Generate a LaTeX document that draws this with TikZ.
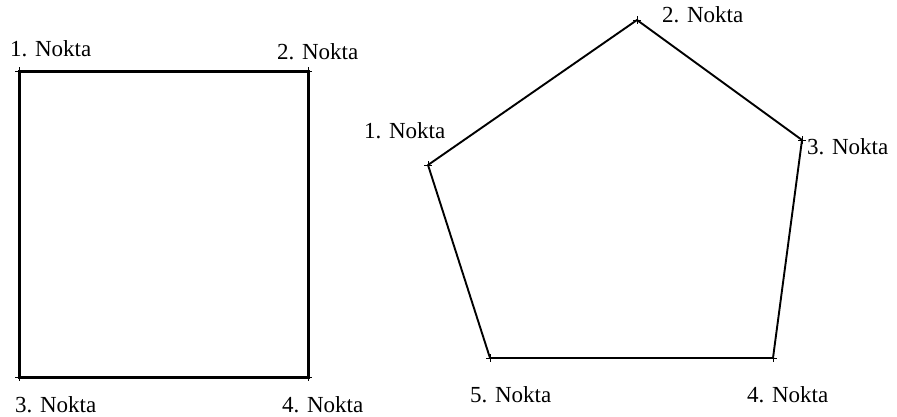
\documentclass[tikz,border=0pt]{standalone}
\usepackage{fontspec}
\setmainfont{Liberation Serif}
\begin{document}
\begin{tikzpicture}[x=1pt,y=-1pt,
  lbl/.style={anchor=base west,inner sep=0pt,font=\fontsize{23}{27}\selectfont},
  sqline/.style={line width=3pt,line join=miter},
  pgline/.style={line width=1.9pt,line join=round},
  plusmark/.pic={\draw[line width=0.9pt] (-4,0)--(4,0) (0,-4)--(0,4);}]
\useasboundingbox[fill=white] (0,0) rectangle (897,416);
% square
\coordinate (s1) at (19,71);
\coordinate (s2) at (308,71);
\coordinate (s3) at (19,377);
\coordinate (s4) at (308,377);
\draw[sqline] (s1) -- (s2) -- (s4) -- (s3) -- cycle;
\foreach \p in {s1,s2,s3,s4} \pic at (\p) {plusmark};
\node[lbl] (ls1) at (10,56) {1. Nokta};
\node[lbl] (ls2) at (277,59) {2. Nokta};
\node[lbl] (ls3) at (15,412) {3. Nokta};
\node[lbl] (ls4) at (282,412) {4. Nokta};
% pentagon
\coordinate (p1) at (428,165);
\coordinate (p2) at (637,20);
\coordinate (p3) at (802,140);
\coordinate (p4) at (773,358);
\coordinate (p5) at (490,358);
\draw[pgline] (p1) -- (p2) -- (p3) -- (p4) -- (p5) -- cycle;
\foreach \p in {p1,p2,p3,p4,p5} \pic at (\p) {plusmark};
\node[lbl] (lp1) at (364,138) {1. Nokta};
\node[lbl] (lp2) at (662,22) {2. Nokta};
\node[lbl] (lp3) at (807,154) {3. Nokta};
\node[lbl] (lp4) at (747,402) {4. Nokta};
\node[lbl] (lp5) at (470,402) {5. Nokta};
\end{tikzpicture}
\end{document}
